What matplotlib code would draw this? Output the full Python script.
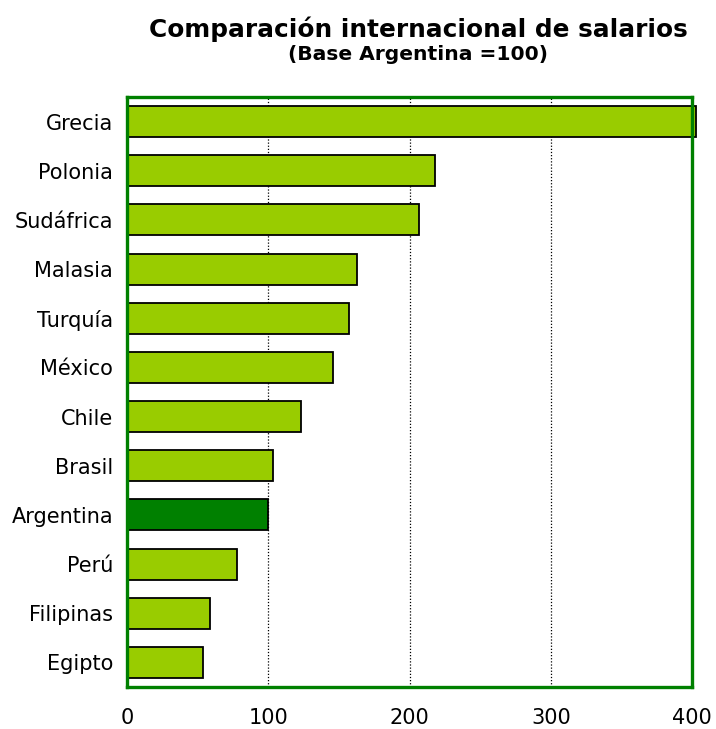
import matplotlib
matplotlib.use("Agg")
import matplotlib.pyplot as plt

countries = ["Grecia", "Polonia", "Sudáfrica", "Malasia", "Turquía", "México",
             "Chile", "Brasil", "Argentina", "Perú", "Filipinas", "Egipto"]
values = [403, 218, 207, 163, 157, 146, 123, 103, 100, 78, 59, 54]
xticks = [0, 100, 200, 300, 400]

LIGHT = "#99CC00"
DARK = "#008000"

fig = plt.figure(figsize=(7.16, 7.29), dpi=100)
ax = fig.add_axes([0.1774, 0.0576, 0.7891, 0.8094])

ypos = list(range(len(countries)))
colors = [DARK if c == "Argentina" else LIGHT for c in countries]
bars = ax.barh(ypos, values, height=0.63, color=colors, edgecolor="black",
               linewidth=1.3, zorder=3)
for b in bars:
    b.set_clip_on(False)

ax.set_xlim(0, 400)
ax.set_ylim(len(countries) - 0.5, -0.5)
ax.set_yticks(ypos)
ax.set_yticklabels(countries)
ax.set_xticks(xticks)
ax.tick_params(length=0, labelsize=15)
ax.tick_params(axis="x", pad=15)
ax.tick_params(axis="y", pad=10)
ax.xaxis.grid(True, linestyle=(0, (1, 1.5)), color="black", linewidth=0.9)
ax.set_axisbelow(True)
for s in ax.spines.values():
    s.set_color(DARK)
    s.set_linewidth(2.4)
    s.set_zorder(4)

fig.text(0.584, 0.960, "Comparación internacional de salarios", ha="center",
         va="center", fontsize=17.8, fontweight="bold")
fig.text(0.584, 0.925, "(Base Argentina =100)", ha="center", va="center",
         fontsize=14.6, fontweight="bold")

fig.savefig("out.png", dpi=100)
